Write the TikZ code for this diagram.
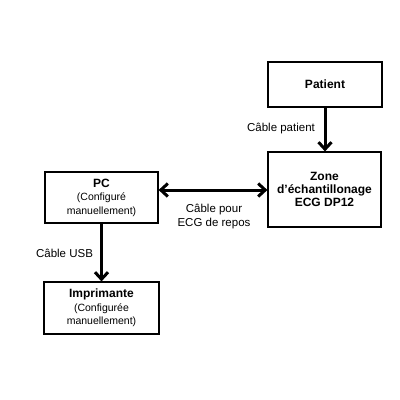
\documentclass[tikz,border=0pt]{standalone}
\usepackage{fontspec}
\setmainfont{Liberation Sans}
\usetikzlibrary{arrows.meta}
\newcommand\smtxt{\fontsize{10.5}{13.4}\selectfont\mdseries}
\begin{document}
\begin{tikzpicture}[x=1pt,y=-1pt,
  box/.style={draw,line width=1.2pt,rectangle,inner sep=0pt,align=center,font=\fontsize{12}{13.4}\selectfont\bfseries},
  lbl/.style={font=\fontsize{11.5}{14}\selectfont,align=center,inner sep=0pt},
  conn/.style={line width=3pt,-{Straight Barb[length=7pt,width=13pt,line width=3pt]}},
  dconn/.style={line width=3pt,{Straight Barb[length=7pt,width=13pt,line width=3pt]}-{Straight Barb[length=7pt,width=13pt,line width=3pt]}}]
\useasboundingbox (0,0) rectangle (400,400);
\fill[white] (0,0) rectangle (400,400);
\node[box,minimum width=114pt,minimum height=45pt] (patient) at (325,84.5) {Patient};
\node[box,minimum width=113pt,minimum height=75pt] (zone) at (324.5,189.5) {Zone\\d’échantillonage\\ECG DP12};
\node[box,minimum width=113pt,minimum height=51pt] (pc) at (101.5,197.5) {PC\\{\smtxt(Configuré}\\{\smtxt manuellement)}};
\node[box,minimum width=115pt,minimum height=52pt] (imp) at (101.5,308) {Imprimante\\{\smtxt(Configurée}\\{\smtxt manuellement)}};
\draw[conn] (patient.south) -- (patient.south |- zone.north);
\draw[conn] (pc.south) -- (pc.south |- imp.north);
\draw[dconn] ([yshift=7.5pt]pc.east) -- ([yshift=7.5pt]pc.east -| zone.west);
\node[lbl] (l1) at (281,129) {Câble patient};
\node[lbl] (l2) at (214,217) {Câble pour\\ECG de repos};
\node[lbl] (l3) at (64.5,253) {Câble USB};
\end{tikzpicture}
\end{document}
